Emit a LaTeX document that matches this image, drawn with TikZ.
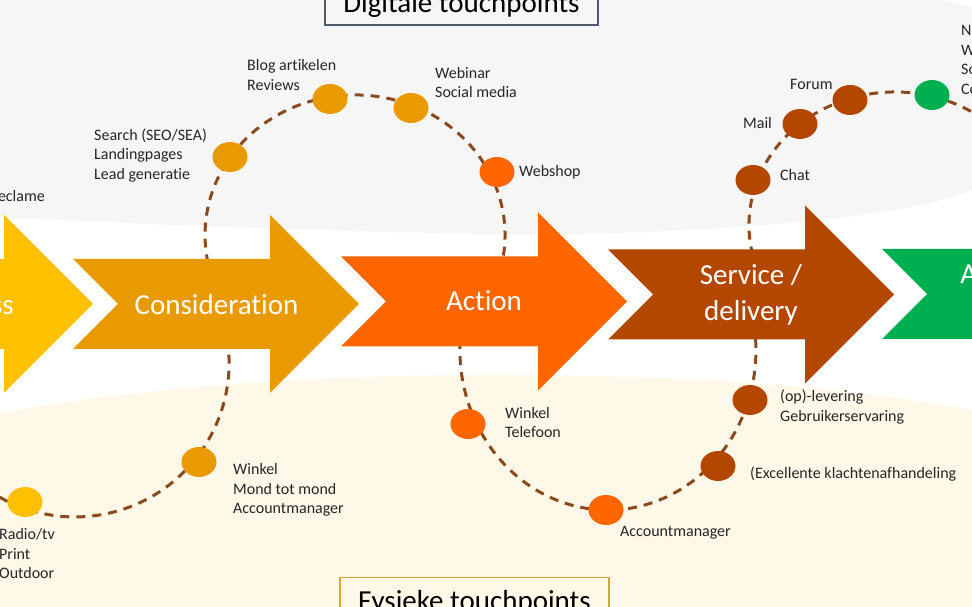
\documentclass[tikz,border=0pt]{standalone}
\usepackage{fontspec}
\setmainfont[Ligatures=NoCommon]{Carlito}
\usetikzlibrary{shapes.geometric}

\definecolor{digigray}{HTML}{F6F6F6}
\definecolor{fysicream}{HTML}{FDF8E7}
\definecolor{awareyellow}{HTML}{FFC000}
\definecolor{considgold}{HTML}{E99A00}
\definecolor{actionorange}{HTML}{FF6600}
\definecolor{servicebrown}{HTML}{B34700}
\definecolor{advocgreen}{HTML}{00B050}
\definecolor{pathbrown}{HTML}{8B4A1E}
\definecolor{slateline}{HTML}{4F5B6B}
\definecolor{goldline}{HTML}{D9A52B}

\newcommand{\stagearrow}[3]{\fill[#3] (#1,#2+45) -- ++(197,0) -- ++(0,44) -- ++(89,-89) -- ++(-89,-89) -- ++(0,44) -- ++(-197,0) -- ++(45,45) -- cycle;}

\begin{document}
\begin{tikzpicture}[x=1pt, y=1pt, every node/.style={font=\fontsize{16}{19.5}\selectfont},
	tpdot/.style={ellipse, minimum width=35pt, minimum height=30pt, inner sep=0pt},
	tplabel/.style={align=left, anchor=west, inner sep=0pt, text=black!85},
	stagetext/.style={text=white, align=center, inner sep=0pt, font=\fontsize{29}{36}\selectfont},
	titlebox/.style={font=\fontsize{29}{36}\selectfont, line width=1.5pt, minimum width=273pt, minimum height=40pt, inner sep=0pt},
	touchline/.style={pathbrown, line width=3pt, dash pattern=on 9pt off 7pt}]
	\useasboundingbox (0,0) rectangle (972,607);
	\clip (0,0) rectangle (972,607);
	\fill[white] (0,0) rectangle (972,607);
	\fill[digigray] (-5,612) -- (920,612) -- (980,598) -- (985,598) -- (985,425) -- (972,417) .. controls (900,385) and (650,370) .. (486,373) .. controls (300,376) and (100,385) .. (-5,390) -- cycle;
	\fill[fysicream] (-5,-5) -- (-5,193) .. controls (150,222) and (330,232) .. (490,232) .. controls (650,232) and (820,225) .. (977,196) -- (977,-5) -- cycle;

	\node[titlebox, draw=slateline, fill=digigray] (digital) at (461.5,602) {Digitale touchpoints};
	\node[titlebox, draw=goldline, fill=fysicream, minimum width=269pt, minimum height=51pt] (physical) at (474.5,4) {Fysieke touchpoints};

	\coordinate (arcA) at (499.9,335.8);
	\coordinate (arcB) at (223.8,283.9);
	\coordinate (arcC) at (465,298.4);
	\coordinate (arcD) at (757.8,336.5);
	\draw[touchline] (arcA) arc[start angle=-15, end angle=195, x radius=150, y radius=140];
	\draw[touchline] (arcB) arc[start angle=15, end angle=-190, radius=154];
	\draw[touchline] (arcC) arc[start angle=165, end angle=375, x radius=148, y radius=160];
	\draw[touchline] (arcD) arc[start angle=200, end angle=-25, x radius=146, y radius=133];

	\stagearrow{-193}{303}{awareyellow}
	\stagearrow{73}{303}{considgold}
	\stagearrow{341}{305.5}{actionorange}
	\stagearrow{608}{312.5}{servicebrown}
	\stagearrow{882}{313}{advocgreen}
	\node[stagetext] (awareness) at (-50,302) {Awareness};
	\node[stagetext] (consideration) at (216.5,302) {Consideration};
	\node[stagetext] (action) at (484,306) {Action};
	\node[stagetext] (service) at (751,312.5) {Service /\\delivery};
	\node[stagetext] (advocacy) at (1025,313) {Advocacy /\\loyalty};

	\node[tpdot, fill=considgold] (search) at (230,450) {};
	\node[tpdot, fill=considgold] (blog) at (330,508) {};
	\node[tpdot, fill=considgold] (webinar) at (411,499) {};
	\node[tpdot, fill=actionorange] (webshop) at (497,435) {};
	\node[tpdot, fill=considgold] (winkelA) at (199,145) {};
	\node[tpdot, fill=awareyellow] (radio) at (25,105) {};
	\node[tpdot, fill=actionorange] (winkelB) at (468,183) {};
	\node[tpdot, fill=actionorange] (account) at (606,97) {};
	\node[tpdot, fill=servicebrown] (klacht) at (718,141) {};
	\node[tpdot, fill=servicebrown] (levering) at (750,207) {};
	\node[tpdot, fill=servicebrown] (chat) at (753,427) {};
	\node[tpdot, fill=servicebrown] (mail) at (800,483) {};
	\node[tpdot, fill=servicebrown] (forum) at (850,507) {};
	\node[tpdot, fill=advocgreen] (community) at (932,512) {};

	\node[tplabel] (blogtext) at (247,532) {Blog artikelen\\Reviews};
	\node[tplabel] (webinartext) at (435,524.5) {Webinar\\Social media};
	\node[tplabel] (webshoptext) at (519,435) {Webshop};
	\node[tplabel] (searchtext) at (94,451.5) {Search (SEO/SEA)\\Landingpages\\Lead generatie};
	\node[tplabel, anchor=east] (reclametext) at (45,411) {Reclame};
	\node[tplabel] (winkelAtext) at (233,117) {Winkel\\Mond tot mond\\Accountmanager};
	\node[tplabel] (radiotext) at (-1,53) {Radio/tv\\Print\\Outdoor};
	\node[tplabel] (winkelBtext) at (505,184.5) {Winkel\\Telefoon};
	\node[tplabel] (accounttext) at (620,74) {Accountmanager};
	\node[tplabel] (klachttext) at (750,133) {(Excellente klachtenafhandeling};
	\node[tplabel] (leveringtext) at (780,200) {(op)-levering\\Gebruikerservaring};
	\node[tplabel] (chattext) at (780,432) {Chat};
	\node[tplabel] (mailtext) at (743,484) {Mail};
	\node[tplabel] (forumtext) at (790,523) {Forum};
	\node[tplabel] (communitytext) at (961,546.5) {Nieuwsbrief\\Website\\Social media\\Community};
\end{tikzpicture}
\end{document}
